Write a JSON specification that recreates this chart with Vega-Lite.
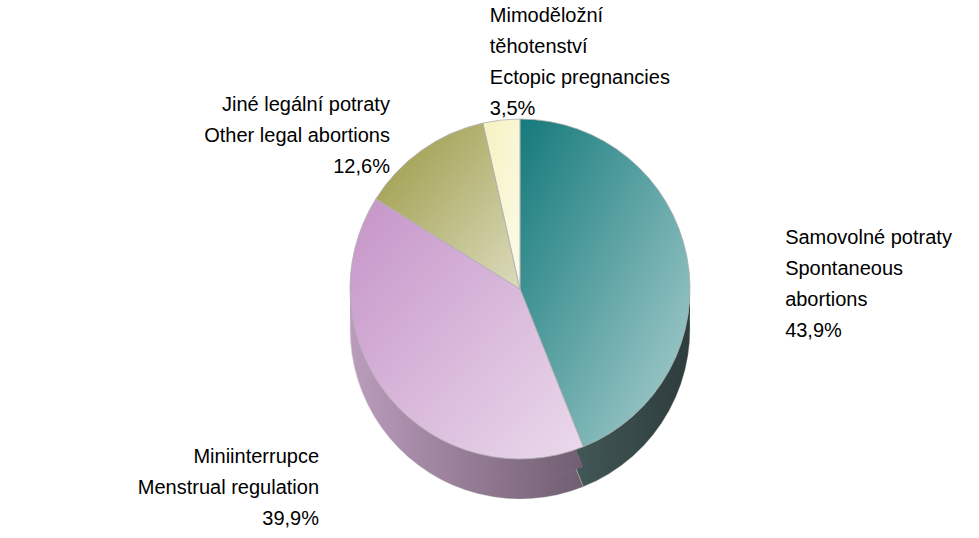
{
  "$schema": "https://vega.github.io/schema/vega-lite/v6.json",
  "autosize": "none",
  "width": 918,
  "height": 498,
  "padding": {"left": 61, "top": 40, "right": 0, "bottom": 0},
  "background": "#ffffff",
  "config": {"view": {"stroke": null}, "text": {"font": "Liberation Sans Narrow, Liberation Sans, sans-serif"}},
  "data": {
    "values": [
      {"cat": "Spontaneous", "order": 1, "value": 43.9, "label": ["Samovolné potraty", "Spontaneous", "abortions", "43,9%"]},
      {"cat": "Menstrual", "order": 2, "value": 39.9, "label": ["Miniinterrupce", "Menstrual regulation", "39,9%"]},
      {"cat": "Other", "order": 3, "value": 12.6, "label": ["Jiné legální potraty", "Other legal abortions", "12,6%"]},
      {"cat": "Ectopic", "order": 4, "value": 3.5, "label": ["Mimoděložní", "těhotenství", "Ectopic pregnancies", "3,5%"]}
    ]
  },
  "encoding": {
    "theta": {"field": "value", "type": "quantitative", "stack": true},
    "order": {"field": "order", "type": "quantitative"}
  },
  "layer": [
    {
      "mark": {"type": "arc", "radius": 170, "yOffset": 40, "stroke": "#dddddd", "strokeWidth": 0.6},
      "encoding": {"color": {"field": "cat", "type": "nominal", "legend": null,
        "scale": {"domain": ["Spontaneous", "Menstrual", "Other", "Ectopic"], "range": ["#4c6464", "#bb9cbc", "#77753c", "#c8c6a0"]}}}
    },
    {
      "mark": {"type": "arc", "radius": 170, "yOffset": 40,
        "fill": {"gradient": "linear", "x1": 0, "y1": 0, "x2": 1, "y2": 0, "stops": [{"offset": 0, "color": "rgba(0,0,0,0)"}, {"offset": 1, "color": "rgba(0,0,0,0.4)"}]}},
      "encoding": {}
    },
    {
      "mark": {"type": "arc", "radius": 170, "yOffset": 20},
      "encoding": {"color": {"field": "cat", "type": "nominal", "legend": null,
        "scale": {"domain": ["Spontaneous", "Menstrual", "Other", "Ectopic"], "range": ["#4c6464", "#bb9cbc", "#77753c", "#c8c6a0"]}}}
    },
    {
      "mark": {"type": "arc", "radius": 170, "yOffset": 20,
        "fill": {"gradient": "linear", "x1": 0, "y1": 0, "x2": 1, "y2": 0, "stops": [{"offset": 0, "color": "rgba(0,0,0,0)"}, {"offset": 1, "color": "rgba(0,0,0,0.4)"}]}},
      "encoding": {}
    },
    {
      "mark": {"type": "arc", "radius": 170},
      "encoding": {"color": {"field": "cat", "type": "nominal", "legend": null,
        "scale": {"domain": ["Spontaneous", "Menstrual", "Other", "Ectopic"], "range": ["#157a7b", "#c594c8", "#9a9842", "#f6f2c0"]}}}
    },
    {
      "mark": {"type": "arc", "radius": 170, "stroke": "#b0b0b0", "strokeWidth": 0.8,
        "fill": {"gradient": "linear", "x1": 0, "y1": 0, "x2": 1, "y2": 1, "stops": [{"offset": 0, "color": "rgba(255,255,255,0)"}, {"offset": 1, "color": "rgba(255,255,255,0.65)"}]}},
      "encoding": {}
    },
    {
      "mark": {"type": "text", "radius": 270, "fontSize": 20, "lineHeight": 31, "align": "left", "baseline": "middle", "color": "#000000"},
      "encoding": {"text": {"condition": {"test": "datum.cat === 'Spontaneous'", "field": "label"}, "value": ""}}
    },
    {
      "mark": {"type": "text", "radius": 262, "fontSize": 20, "lineHeight": 31, "align": "right", "baseline": "middle", "color": "#000000"},
      "encoding": {"text": {"condition": {"test": "datum.cat === 'Menstrual'", "field": "label"}, "value": ""}}
    },
    {
      "mark": {"type": "text", "radius": 225, "fontSize": 20, "lineHeight": 31, "align": "right", "baseline": "middle", "color": "#000000"},
      "encoding": {"text": {"condition": {"test": "datum.cat === 'Other'", "field": "label"}, "value": ""}}
    },
    {
      "mark": {"type": "text", "radius": 275, "fontSize": 20, "lineHeight": 31, "align": "left", "baseline": "middle", "color": "#000000"},
      "encoding": {"text": {"condition": {"test": "datum.cat === 'Ectopic'", "field": "label"}, "value": ""}}
    }
  ],
  "resolve": {"scale": {"color": "independent"}}
}
